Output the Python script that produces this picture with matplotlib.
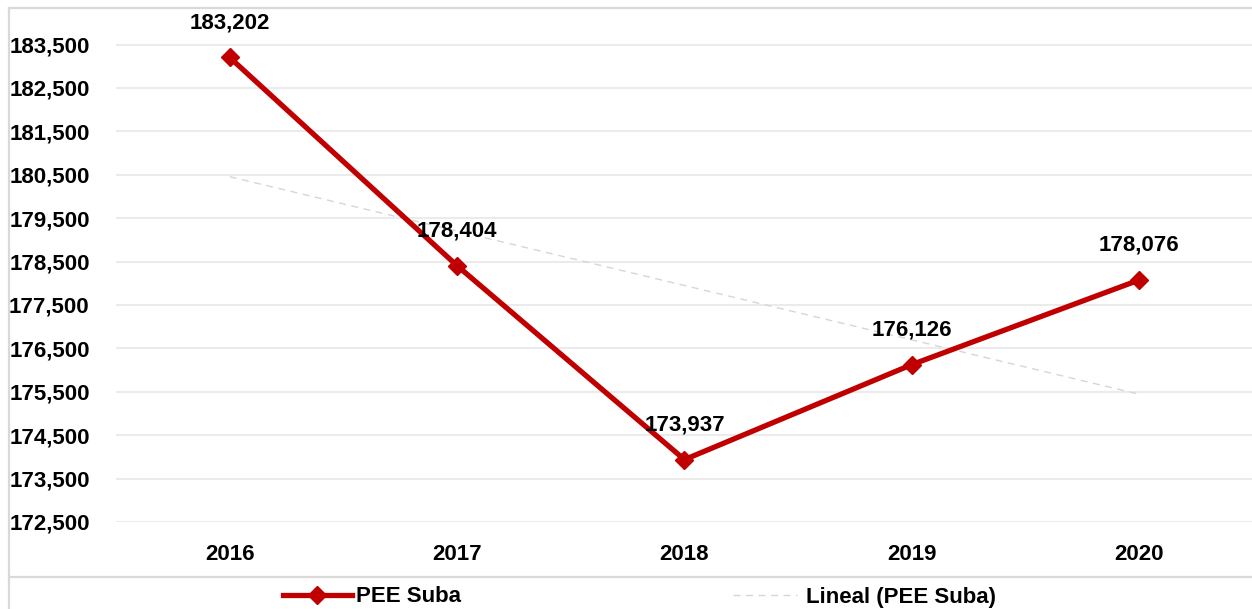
import matplotlib
matplotlib.use("Agg")
import matplotlib.pyplot as plt
import matplotlib.ticker as plticker
from matplotlib import font_manager
from matplotlib.lines import Line2D
import numpy as np

years = ["2016", "2017", "2018", "2019", "2020"]
pee_suba = [183202, 178404, 173937, 176126, 178076]
y_ticks = [172500, 173500, 174500, 175500, 176500, 177500, 178500,
           179500, 180500, 181500, 182500, 183500]

# the original uses a narrow bold face (Arial Narrow); take one if present
names = {f.name for f in font_manager.fontManager.ttflist}
if 'Liberation Sans Narrow' in names:
    FAMILY, FS = 'Liberation Sans Narrow', 18
else:
    FAMILY, FS = 'Liberation Sans', 16
plt.rcParams['font.family'] = [FAMILY, 'DejaVu Sans']
plt.rcParams['font.weight'] = 'bold'

RED = '#C00000'
GRID = '#ebebeb'
FRAME = '#d9d9d9'

fig = plt.figure(figsize=(12.52, 6.09), dpi=100)
ax = fig.add_axes([0.0927, 0.1429, 0.908, 0.844])

x = np.arange(len(years))
ax.plot(x, pee_suba, color=RED, lw=3.8, marker='D', markersize=9,
        zorder=3, solid_joinstyle='miter')

# linear trend (Lineal)
coef = np.polyfit(x, pee_suba, 1)
ax.plot(x, np.polyval(coef, x), color='#d6d6d6', lw=1, ls=(0, (5, 4)), zorder=2)

for xi, v in zip(x, pee_suba):
    ax.annotate(f"{v:,}", (xi, v), xytext=(0, 25), textcoords='offset points',
                ha='center', va='center', fontsize=FS, fontweight='bold')

ax.set_xlim(-0.5, len(years) - 0.5)
ax.set_ylim(172500, 184343)
ax.set_xticks(x)
ax.set_xticklabels(years)
ax.set_yticks(y_ticks)
ax.yaxis.set_major_formatter(plticker.FuncFormatter(lambda v, p: f"{int(v):,}"))
ax.tick_params(axis='both', length=0, labelsize=FS)
ax.tick_params(axis='x', pad=16)
ax.tick_params(axis='y', pad=19)
ax.grid(axis='y', color=GRID, lw=1.5)
ax.set_axisbelow(True)
for s in ax.spines.values():
    s.set_visible(False)

# outer chart frame
fig.add_artist(Line2D([9 / 1252, 9 / 1252], [0, 1 - 8 / 609], color=FRAME, lw=1.6))
fig.add_artist(Line2D([9 / 1252, 1], [1 - 8 / 609, 1 - 8 / 609], color=FRAME, lw=1.6))
fig.add_artist(Line2D([9 / 1252, 1], [1 - 577 / 609, 1 - 577 / 609], color=FRAME, lw=1.6))

# legend, two entries spread like the original
h1 = Line2D([], [], color=RED, lw=3.8, marker='D', markersize=9)
h2 = Line2D([], [], color='#d6d6d6', lw=1, ls=(0, (5, 4)))
leg1 = fig.legend([h1], ["PEE Suba"], loc='center left',
                  bbox_to_anchor=(263 / 1252, 1 - 597 / 609), frameon=False,
                  fontsize=FS, handlelength=3.1, handletextpad=0.2)
leg2 = fig.legend([h2], ["Lineal (PEE Suba)"], loc='center left',
                  bbox_to_anchor=(713 / 1252, 1 - 597 / 609), frameon=False,
                  fontsize=FS, handlelength=2.9, handletextpad=0.4)

fig.savefig("out.png", dpi=100, facecolor='white')
